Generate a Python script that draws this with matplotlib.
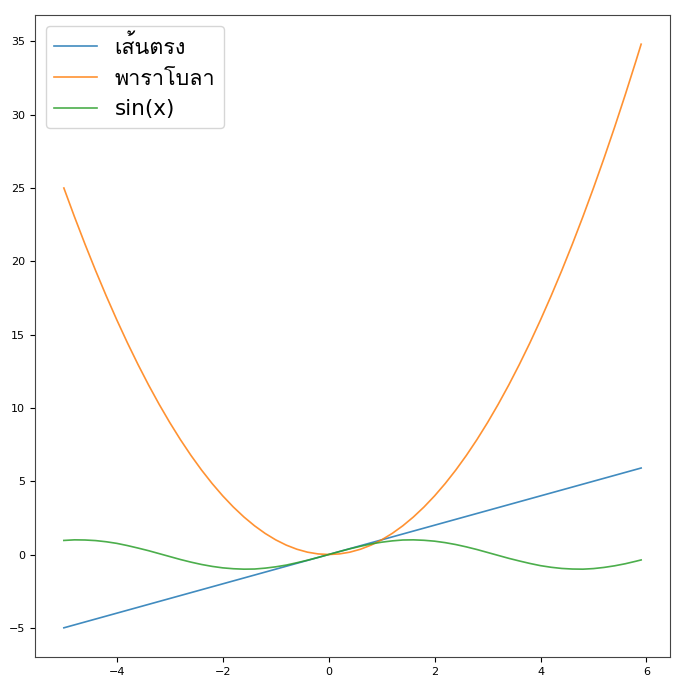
import matplotlib
matplotlib.use("Agg")
from matplotlib import pyplot as plt
from matplotlib import font_manager
from matplotlib.ft2font import FT2Font

# values
line_x = [-5.0, 5.9]
line_y = [-5.0, 5.9]

curve_x = [-5.0, -4.8, -4.6, -4.4, -4.2, -4.0, -3.8, -3.6, -3.4, -3.2,
           -3.0, -2.8, -2.6, -2.4, -2.2, -2.0, -1.8, -1.6, -1.4, -1.2,
           -1.0, -0.8, -0.6, -0.4, -0.2, 0.0, 0.2, 0.4, 0.6, 0.8,
           1.0, 1.2, 1.4, 1.6, 1.8, 2.0, 2.2, 2.4, 2.6, 2.8,
           3.0, 3.2, 3.4, 3.6, 3.8, 4.0, 4.2, 4.4, 4.6, 4.8,
           5.0, 5.2, 5.4, 5.6, 5.8, 5.9]

parabola_y = [25.00, 23.04, 21.16, 19.36, 17.64, 16.00, 14.44, 12.96, 11.56, 10.24,
              9.00, 7.84, 6.76, 5.76, 4.84, 4.00, 3.24, 2.56, 1.96, 1.44,
              1.00, 0.64, 0.36, 0.16, 0.04, 0.00, 0.04, 0.16, 0.36, 0.64,
              1.00, 1.44, 1.96, 2.56, 3.24, 4.00, 4.84, 5.76, 6.76, 7.84,
              9.00, 10.24, 11.56, 12.96, 14.44, 16.00, 17.64, 19.36, 21.16, 23.04,
              25.00, 27.04, 29.16, 31.36, 33.64, 34.81]

sin_y = [0.96, 1.00, 0.99, 0.95, 0.87, 0.76, 0.61, 0.44, 0.26, 0.06,
         -0.14, -0.34, -0.52, -0.68, -0.81, -0.91, -0.97, -1.00, -0.99, -0.93,
         -0.84, -0.72, -0.56, -0.39, -0.20, 0.00, 0.20, 0.39, 0.56, 0.72,
         0.84, 0.93, 0.99, 1.00, 0.97, 0.91, 0.81, 0.68, 0.52, 0.34,
         0.14, -0.06, -0.26, -0.44, -0.61, -0.76, -0.87, -0.95, -0.99, -1.00,
         -0.96, -0.88, -0.77, -0.63, -0.46, -0.37]

labels = ["เส้นตรง", "พาราโบลา", "sin(x)"]


def thai_font():
  """first installed family that has Thai glyphs, if any"""
  for f in font_manager.fontManager.ttflist:
    try:
      if FT2Font(f.fname).get_char_index(0x0E01):
        return f.name
    except Exception:
      pass
  return None

# DejaVu for latin text, thai font only as fallback
fams = ["DejaVu Sans"]
th = thai_font()
if th:
  fams = ["DejaVu Sans", th]

fig = plt.figure(figsize=(6.81, 6.90), dpi=100)
fig.subplots_adjust(left=35/681, right=670/681, top=1-15/690, bottom=1-657/690)
ax = fig.add_subplot(111)

ax.plot(line_x, line_y, lw=1.2, alpha=0.85, label=labels[0])
ax.plot(curve_x, parabola_y, lw=1.2, alpha=0.85, label=labels[1])
ax.plot(curve_x, sin_y, lw=1.2, alpha=0.85, label=labels[2])

ax.tick_params(labelsize=8)
for s in ax.spines.values():
  s.set_color("#444444")
ax.legend(loc="upper left", prop={"family": fams, "size": 15.5})

fig.savefig("out.png", dpi=100)
